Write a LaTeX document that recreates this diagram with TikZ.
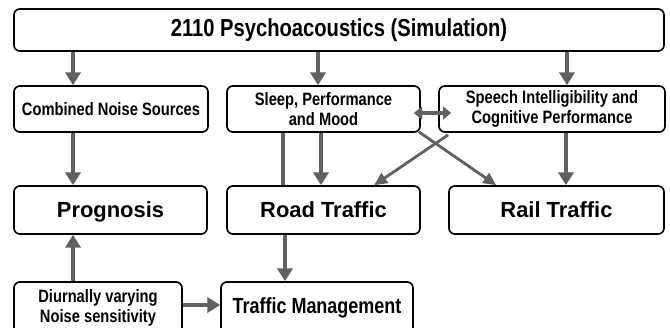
\documentclass[tikz,border=0pt]{standalone}
\usepackage{fontspec}
\setmainfont{Liberation Sans}
\newfontfamily\narrowfont[FakeStretch=0.82]{Liberation Sans}
\usetikzlibrary{arrows.meta}
\definecolor{arrowgray}{RGB}{96,96,96}
\tikzset{
	box/.style={draw=black, line width=1.4pt, rounded corners=5pt, inner sep=0pt, align=center,
		font=\narrowfont\bfseries\fontsize{15.3}{17}\selectfont},
	bigbox/.style={box, text height=13.5pt, text depth=0pt, font=\bfseries\fontsize{18.7}{22}\selectfont},
	fat/.style={draw=arrowgray, line width=4.2pt, -{Triangle[length=11pt,width=13pt]}},
	slim/.style={draw=arrowgray, line width=2.4pt, -{Triangle[length=11pt,width=10pt]}},
	both/.style={draw=arrowgray, line width=3.4pt, {Triangle[length=7pt,width=11pt]}-{Triangle[length=7pt,width=11pt]}}
}

\begin{document}
\begin{tikzpicture}[x=0.03cm, y=-0.03cm]
		\useasboundingbox (0,0) rectangle (670,327);
		\node[box, minimum width=19.5cm, minimum height=1.26cm, font=\narrowfont\bfseries\fontsize{21}{24}\selectfont] (top) at (339,30) {2110 Psychoacoustics (Simulation)};
		\node[box, minimum width=5.82cm, minimum height=1.38cm] (comb) at (111,109) {Combined Noise Sources};
		\node[box, minimum width=5.79cm, minimum height=1.38cm] (sleep) at (323.5,109) {Sleep, Performance\\and Mood};
		\node[box, minimum width=6.78cm, minimum height=1.38cm] (speech) at (552,109) {Speech Intelligibility and\\Cognitive Performance};
		\node[bigbox, minimum width=5.79cm, minimum height=1.44cm] (prog) at (110.5,210) {Prognosis};
		\node[bigbox, minimum width=5.79cm, minimum height=1.44cm] (road) at (323.5,210) {Road Traffic};
		\node[bigbox, minimum width=6.45cm, minimum height=1.44cm] (rail) at (556.5,210) {Rail Traffic};
		\node[box, minimum width=5.04cm, minimum height=1.56cm] (diur) at (98,308) {Diurnally varying\\Noise sensitivity};
		\node[box, minimum width=5.76cm, minimum height=1.56cm, font=\narrowfont\bfseries\fontsize{18.7}{22}\selectfont] (tm) at (317,308) {Traffic Management};
		\foreach \x/\a/\b in {73/top/comb, 318/top/sleep, 567/top/speech, 73/comb/prog, 321/sleep/road, 566/speech/rail, 285/road/tm}
		{
			\coordinate (h) at (\x,0);
			\draw[fat] (\a.south -| h) -- (\b.north -| h);
		}
		\coordinate (h) at (283,0);
		\draw[draw=arrowgray, line width=3.4pt] (sleep.south -| h) -- (road.north -| h);
		\coordinate (h) at (73,0);
		\draw[fat] (diur.north -| h) -- (prog.south -| h);
		\draw[fat] ([shift={(0,-3)}]diur.east) -- ([shift={(0,-3)}]tm.west);
		\draw[slim] ([shift={(-2,-1)}]sleep.south east) -- ([shift={(48,0)}]rail.north west);
		\draw[slim] ([shift={(10,2)}]speech.south west) -- ([shift={(148,0)}]road.north west);
		\draw[both] ([shift={(-7,4)}]sleep.east) -- ([shift={(13,4)}]speech.west);
	\end{tikzpicture}
\end{document}
